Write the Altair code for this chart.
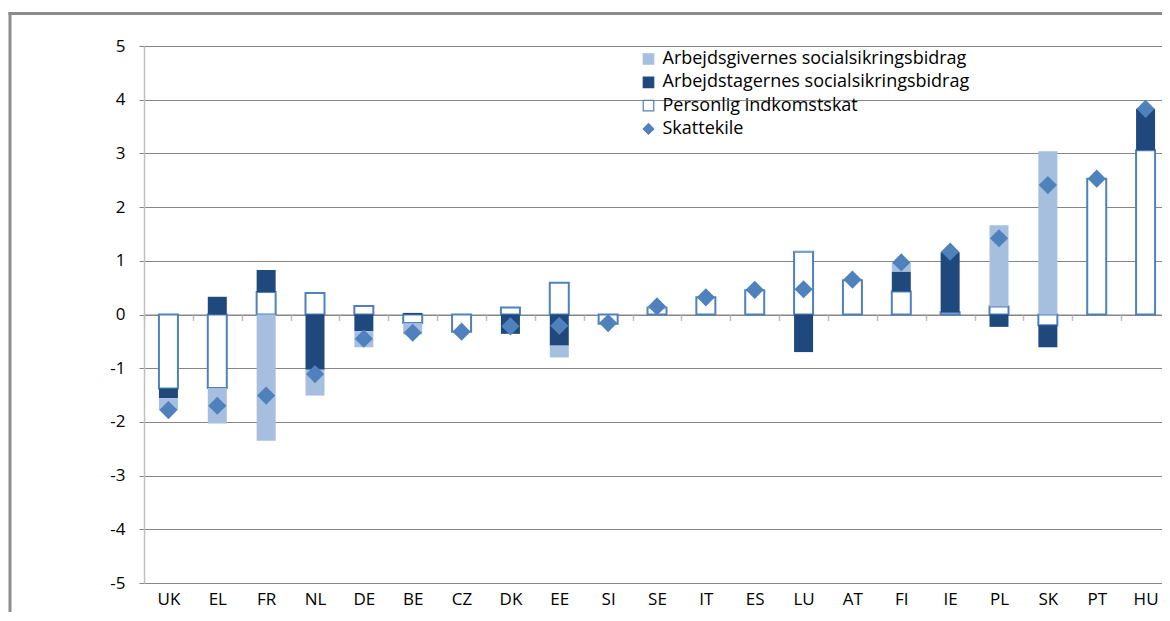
import altair as alt
import pandas as pd

countries = ["UK", "EL", "FR", "NL", "DE", "BE", "CZ", "DK", "EE", "SI", "SE",
             "IT", "ES", "LU", "AT", "FI", "IE", "PL", "SK", "PT", "HU"]
pit = [-1.38, -1.37, 0.42, 0.40, 0.16, -0.16, -0.32, 0.13, 0.59, -0.17, 0.13,
       0.32, 0.45, 1.17, 0.64, 0.43, 0.04, 0.15, -0.20, 2.53, 3.06]
employee = [-0.18, 0.33, 0.41, -1.03, -0.31, 0.03, 0.0, -0.36, -0.58, 0.0, 0.0,
            0.0, 0.0, -0.70, 0.0, 0.37, 1.12, -0.23, -0.41, 0.0, 0.77]
employer = [-0.22, -0.66, -2.35, -0.48, -0.30, -0.21, 0.0, 0.0, -0.22, 0.0, 0.02,
            0.0, 0.0, 0.01, 0.0, 0.16, 0.0, 1.51, 3.04, 0.0, 0.0]
wedge = [-1.78, -1.70, -1.51, -1.11, -0.45, -0.34, -0.32, -0.22, -0.21, -0.16, 0.15,
         0.32, 0.46, 0.47, 0.65, 0.97, 1.17, 1.42, 2.41, 2.53, 3.83]
names = ["Arbejdsgivernes socialsikringsbidrag", "Arbejdstagernes socialsikringsbidrag",
         "Personlig indkomstskat", "Skattekile"]
y_ticks = [-5, -4, -3, -2, -1, 0, 1, 2, 3, 4, 5]

rows = []
for i, c in enumerate(countries):
    for s, vals, o in [(names[2], pit, 0), (names[1], employee, 1), (names[0], employer, 2)]:
        if vals[i] != 0:
            rows.append({"country": c, "series": s, "value": vals[i], "ord": o})
bars_df = pd.DataFrame(rows)
wedge_df = pd.DataFrame({"country": countries, "value": wedge, "series": names[3]})
legend_df = pd.DataFrame({"country": [countries[0]] * 4, "value": [0.0] * 4, "series": names})
frame_df = pd.DataFrame({"a": [0]})

FONT = "Open Sans"
W, H = 1018, 537
XR = 1026
TOP, BOTTOM, LEFT = 38, 29, 136
BLUE = "#4F81BD"
DARK = "#1F497D"
PATTERN = "#A6BFDF"

x = alt.X("country:N", sort=countries, title=None,
          scale=alt.Scale(domain=countries, paddingInner=0, paddingOuter=0, range=[0, XR]),
          axis=alt.Axis(orient="bottom", offset=-H / 2, domainColor="#868686", domainWidth=1,
                        tickColor="#BFBFBF", tickSize=6, tickWidth=1.5, tickBand="extent",
                        labelPadding=271, labelAngle=0, labelFont=FONT, labelFontSize=17,
                        labelColor="#000000", grid=False))
y = alt.Y("value:Q", title=None, scale=alt.Scale(domain=[-5, 5], nice=False, zero=False),
          axis=alt.Axis(values=y_ticks, grid=True, gridColor="#868686", gridWidth=1,
                        domainColor="#BFBFBF", domainWidth=1.5, tickColor="#868686", tickSize=5,
                        labelPadding=14, labelFont=FONT, labelFontSize=17, labelColor="#000000",
                        labelExpr="'' + datum.value"))

fill = (alt.when(alt.datum.series == names[0]).then(alt.value(PATTERN))
        .when(alt.datum.series == names[1]).then(alt.value(DARK))
        .otherwise(alt.value("#FFFFFF")))
stroke = (alt.when(alt.datum.series == names[2]).then(alt.value(BLUE))
          .otherwise(alt.value("transparent")))

bars = alt.Chart(bars_df).mark_bar(size=19, strokeWidth=2).encode(
    x=x, y=y, detail="series:N", order=alt.Order("ord:Q"), fill=fill, stroke=stroke)

diamonds = alt.Chart(wedge_df).mark_point(
    shape="diamond", filled=True, size=330, color=BLUE, opacity=1).encode(x=x, y=y)

leg = alt.Legend(title=None, orient="none", legendX=495.5, legendY=4, padding=0,
                 symbolSize=110, symbolStrokeWidth=1.2, symbolOpacity=1,
                 labelFont=FONT, labelFontSize=18, labelColor="#000000",
                 labelOffset=5, rowPadding=5.3, labelLimit=500)
legend_layer = alt.Chart(legend_df).mark_point(filled=True, opacity=0).encode(
    x=x, y=y,
    color=alt.Color("series:N", scale=alt.Scale(domain=names, range=[PATTERN, DARK, "#FFFFFF", BLUE]), legend=leg),
    shape=alt.Shape("series:N", scale=alt.Scale(domain=names, range=["square", "square", "square", "diamond"]), legend=leg),
    stroke=alt.Stroke("series:N", scale=alt.Scale(domain=names, range=[PATTERN, DARK, BLUE, BLUE]), legend=leg),
)

# outer chart frame (left and top edges; the rest lies outside the picture)
frame_v = alt.Chart(frame_df).mark_rule(color="#8C8C8C", strokeWidth=3).encode(
    x=alt.value(-134), y=alt.value(-34), y2=alt.value(H + BOTTOM))
frame_h = alt.Chart(frame_df).mark_rule(color="#8C8C8C", strokeWidth=3).encode(
    y=alt.value(-32.5), x=alt.value(-135.5), x2=alt.value(W))

chart = alt.layer(frame_v, frame_h, bars, diamonds, legend_layer).properties(
    width=W, height=H,
    padding={"left": LEFT, "top": TOP, "right": 0, "bottom": BOTTOM},
    autosize=alt.AutoSizeParams(type="none"),
).configure_view(stroke=None).configure(font=FONT, background="#FFFFFF")

chart.save("out.html", embed_options={"renderer": "svg", "actions": False})
